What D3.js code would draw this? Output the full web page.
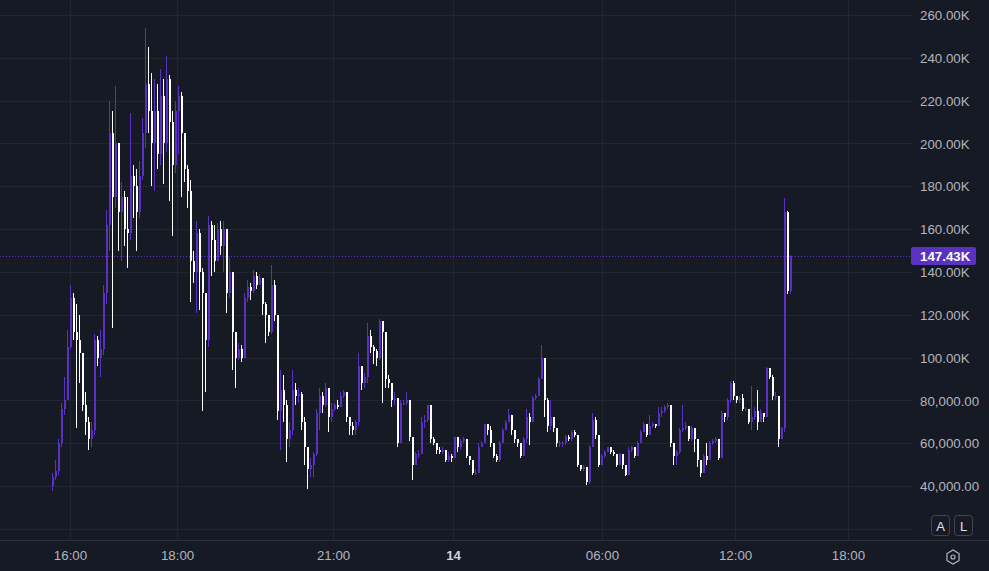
<!DOCTYPE html>
<html><head><meta charset="utf-8">
<script src="https://cdn.jsdelivr.net/npm/d3@7"></script>
<style>
html,body{margin:0;padding:0;background:#161a25;overflow:hidden;}
svg{display:block;}
</style></head>
<body>
<svg id="c" width="989" height="571"></svg>
<script>
// ---- data (values in thousands) ----
const firstOpen = 40;
const closes = [44,47,60,76,80,105,128,112,108,102,78,70,62,66,108,100,104,130,162,205,
175,200,168,175,160,158,185,180,168,185,205,228,215,200,215,195,222,200,230,210,
190,215,222,205,188,178,145,140,158,140,130,108,162,155,145,160,152,160,130,140,
112,100,104,100,128,133,131,138,134,137,125,120,112,134,120,75,85,78,62,66,
85,82,83,70,58,48,50,55,74,82,78,86,72,76,78,77,82,84,72,68,
66,70,96,88,91,110,105,103,100,117,112,90,88,80,81,60,79,79,80,63,
50,55,55,70,71,78,62,60,57,56,57,52,54,53,63,58,61,62,54,52,
46,46,58,60,69,66,60,54,52,60,66,70,73,66,62,60,54,62,72,70,
81,82,90,100,80,68,72,67,60,60,60,63,62,65,64,50,48,49,42,58,
71,64,50,54,56,58,56,55,50,55,50,45,57,58,54,60,65,69,64,68,
69,68,74,75,77,78,60,54,56,66,67,68,62,67,62,52,46,54,52,60,
61,62,53,74,72,80,88,82,80,81,76,76,70,72,75,70,74,72,95,91,
82,82,62,67,168,131,147.43];
const highs = [46,52,62,79,91,113,134,130,125,120,100,84,72,70,111,110,113,134,169,220,
215,227,190,182,178,175,214,190,188,192,212,254,245,233,230,228,235,230,241,232,
215,220,227,224,200,190,183,150,164,160,142,130,166,164,162,163,164,164,145,147,
135,112,107,106,130,136,135,141,140,139,137,126,120,143,136,118,94,92,80,70,
94,88,86,84,72,58,53,56,76,86,84,88,85,79,79,80,84,85,84,72,
70,71,102,96,93,116,113,106,104,118,117,112,92,88,84,81,80,80,84,80,
63,56,57,72,73,78,78,63,60,58,58,57,56,55,63,63,62,63,62,54,
52,48,60,61,69,69,68,60,55,61,67,71,76,73,66,62,60,63,76,74,
82,83,91,106,100,81,80,72,67,61,61,64,64,66,66,64,50,50,49,59,
74,72,64,55,57,58,58,57,55,55.5,55,50,58,58.5,58,61,66,70,69,73,
70,69,77,77,78,79,78,60,57,67,78,70,68,68,67,62,52,55,60,61,
62,63,62,75,74,81,89,89,82,82,83,77,76,86.5,77,85,76,74,95.5,93,
92,84,82,67.5,174.6,168.6,148];
const lows = [37.5,43,45,58,73,84,104,108,67,88,75,64,57,58,64,96,91,101,125,150,
114,170,150,145,152,142,155,165,150,165,183,198,205,180,178,188,190,181,196,173,
157,186,195,175,182,170,126,135,121,122,75,84,105,138,140,145,148,140,121,128,
94,86,99,98,100,126,127,130,132,134,120,107,110,111,117,71,57,70,51,58,
64,78,79,66,50,38.5,44,44,54,66,74,77,65,70,75,76,77,81,70,64,
64,64,68,85,86,88,102,97,96,99,79,86,86,77,78,58,60,78,78,61,
43,52,53,55,67,70,60,59,55,55,55,51,51,51,53,56,57,60,53,50,
45,45,46,58,60,64,58,53,51,51,60,66,70,64,60,58,53,54,60,59,
70,80,82,90,72,65,66,65,58,58,58,59,61,61,63,49,47,47,40.5,41,
58,62,49,50,53,56,55,54,49,50,48,44.5,45,56,53,54,60,65,63,64,
67,67,68,72,74,76,58,50,50,55,65,66,61,61,56,49,44,46,50,52,
59,60,52,53,70,71,79,80,79,79,75,75,69,66,71,66,70,70,72,90,
80,80,58,62,65,129.5,129.5];
const lastPrice = 147.43;
const lastLabel = "147.43K";
const yTickValues = [20,40,60,80,100,120,140,160,180,200,220,240,260];
const yTickLabels = ["","40,000.00","60,000.00","80,000.00","100.00K","120.00K","140.00K","160.00K","180.00K","200.00K","220.00K","240.00K","260.00K"];
const xTickIdx = [6,41.7,93.7,133.7,183.3,227.7,265.3];
const xTickLabels = ["16:00","18:00","21:00","14","06:00","12:00","18:00"];
const xTickBold = [false,false,false,true,false,false,false];

// ---- style ----
const W = 989, H = 571;
const plotRight = 912, axisTop = 540;
const bg = "#161a25", gridC = "#222632", textC = "#b2b5be";
const upC = "#5c30c4", downC = "#ffffff";
const font = "Liberation Sans, Arial, sans-serif";

const svg = d3.select("#c");
svg.append("rect").attr("width",W).attr("height",H).attr("fill",bg);

const x = d3.scaleLinear().domain([0, closes.length-1]).range([52, 790]);
const y = d3.scaleLinear().domain([40, 260]).range([486, 15]);

// grid
const grid = svg.append("g").attr("shape-rendering","crispEdges");
grid.selectAll("line.h").data(yTickValues).join("line")
  .attr("x1",0).attr("x2",plotRight)
  .attr("y1",d=>Math.round(y(d))+0.5).attr("y2",d=>Math.round(y(d))+0.5)
  .attr("stroke",gridC).attr("stroke-width",1);
grid.selectAll("line.v").data(xTickIdx).join("line")
  .attr("x1",d=>Math.round(x(d))+0.5).attr("x2",d=>Math.round(x(d))+0.5)
  .attr("y1",0).attr("y2",axisTop)
  .attr("stroke",gridC).attr("stroke-width",1);

// candles
const candles = closes.map((c,i)=>{
  const o = i===0 ? firstOpen : closes[i-1];
  return {i, o, c, h: Math.max(highs[i],o,c), l: Math.min(lows[i],o,c)};
});
const cg = svg.append("g").attr("shape-rendering","crispEdges");
cg.selectAll("line").data(candles).join("line")
  .attr("x1",d=>Math.round(x(d.i))+0.5).attr("x2",d=>Math.round(x(d.i))+0.5)
  .attr("y1",d=>y(d.h)).attr("y2",d=>y(d.l))
  .attr("stroke",d=>d.c>=d.o?upC:downC).attr("stroke-width",1);
cg.selectAll("rect").data(candles).join("rect")
  .attr("x",d=>Math.round(x(d.i))).attr("width",2)
  .attr("y",d=>y(Math.max(d.o,d.c)))
  .attr("height",d=>Math.max(1,Math.abs(y(d.o)-y(d.c))))
  .attr("fill",d=>d.c>=d.o?upC:downC);

// last price dotted line
svg.append("line").attr("x1",0).attr("x2",plotRight)
  .attr("y1",Math.round(y(lastPrice))+0.5).attr("y2",Math.round(y(lastPrice))+0.5)
  .attr("stroke",upC).attr("stroke-width",1).attr("stroke-dasharray","1,2")
  .attr("shape-rendering","crispEdges");

// y axis
const yAxis = d3.axisRight(y).tickValues(yTickValues.filter((v,i)=>yTickLabels[i]!==""))
  .tickFormat(v=>yTickLabels[yTickValues.indexOf(v)]).tickSize(0).tickPadding(0);
const ya = svg.append("g").attr("transform",`translate(920,0)`).call(yAxis);
ya.select(".domain").remove();
ya.selectAll("text").attr("fill",textC).attr("font-family",font)
  .attr("font-size",13.3).attr("dy","0.35em");

// last price label
const ly = y(lastPrice);
svg.append("rect").attr("x",911).attr("y",ly-9).attr("width",65).attr("height",18).attr("rx",2)
  .attr("fill","#5a31c0");
svg.append("text").attr("x",920).attr("y",ly).attr("dy","0.35em").text(lastLabel)
  .attr("fill","#ffffff").attr("font-weight","bold").attr("font-size",13.3)
  .attr("font-family",font);

// x axis border
svg.append("line").attr("x1",0).attr("x2",W).attr("y1",axisTop+0.5).attr("y2",axisTop+0.5)
  .attr("stroke","#2a2e39").attr("shape-rendering","crispEdges");

const xAxis = d3.axisBottom(x).tickValues(xTickIdx)
  .tickFormat((d,i)=>xTickLabels[i]).tickSize(0).tickPadding(0);
const xa = svg.append("g").attr("transform",`translate(0,555)`).call(xAxis);
xa.select(".domain").remove();
xa.selectAll("text").attr("fill",(d,i)=>xTickBold[i]?"#d1d4dc":textC)
  .attr("font-weight",(d,i)=>xTickBold[i]?"bold":"normal")
  .attr("font-family",font).attr("font-size",13.3).attr("dy","0.35em");

// A / L buttons
const btns = [{t:"A",x:931},{t:"L",x:954}];
btns.forEach(b=>{
  svg.append("rect").attr("x",b.x+0.5).attr("y",515.5).attr("width",18).attr("height",20).attr("rx",3)
    .attr("fill","none").attr("stroke","#434651");
  svg.append("text").attr("x",b.x+9.5).attr("y",526).attr("dy","0.35em").attr("text-anchor","middle")
    .text(b.t).attr("fill","#e0e3eb").attr("font-size",13).attr("font-family",font);
});
// settings icon (hexagon + circle)
const hx=953, hy=557, hr=7;
const hex = d3.range(6).map(k=>[hx+hr*Math.cos(Math.PI/3*k+Math.PI/6), hy+hr*Math.sin(Math.PI/3*k+Math.PI/6)]);
svg.append("polygon").attr("points",hex.map(p=>p.join(",")).join(" "))
  .attr("fill","none").attr("stroke","#b2b5be").attr("stroke-width",1.2);
svg.append("circle").attr("cx",hx).attr("cy",hy).attr("r",2).attr("fill","none").attr("stroke","#b2b5be").attr("stroke-width",1.2);
</script>
</body></html>
